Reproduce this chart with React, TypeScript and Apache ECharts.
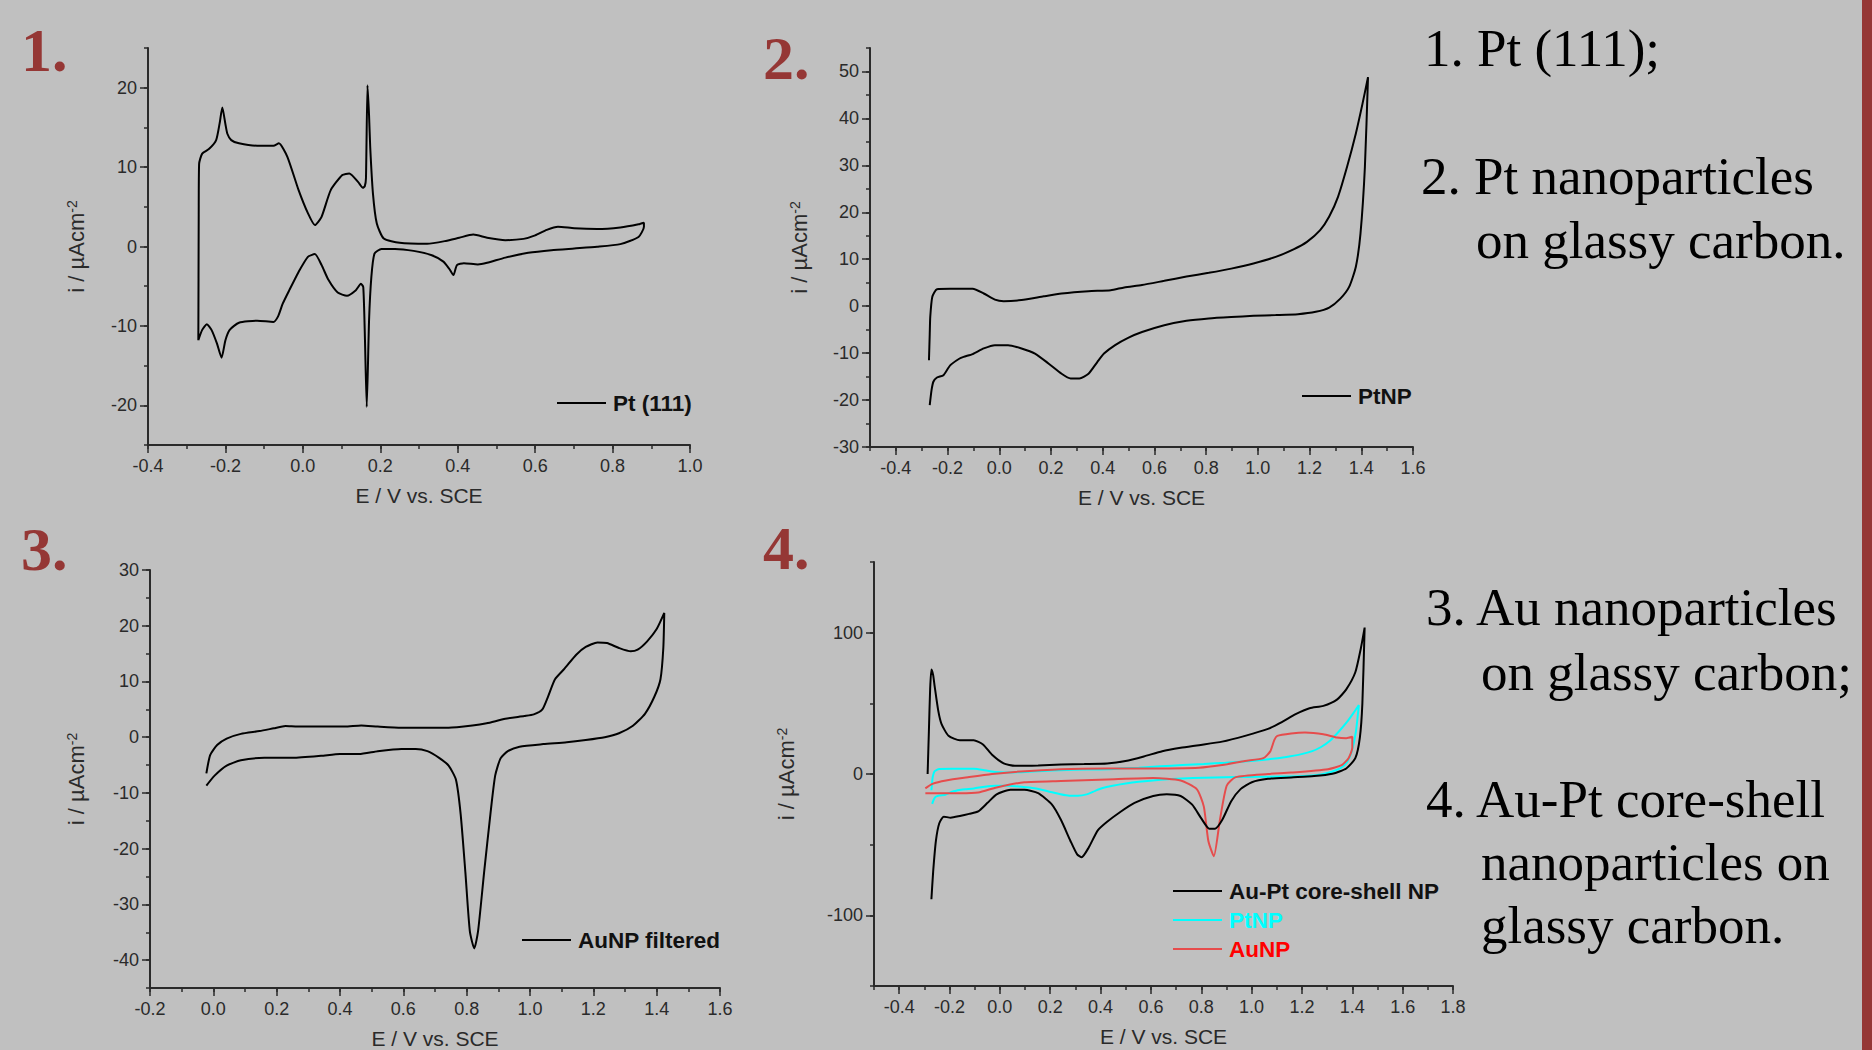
import { useEffect, useRef } from "react";
import * as echarts from "echarts";

type P = [number, number];

const FONT_SANS = "'Liberation Sans', Arial, sans-serif";
const FONT_SERIF = "'Liberation Serif', 'Times New Roman', serif";
const BG = "#c0c0c0";
const INK = "#2a2a2a";
const MAROON = "#953735";

// ---------- Panel 1: Pt(111) ----------
const pt111Anodic: P[] = [
  [-0.27, -11.8], [-0.2695, -4], [-0.269, 4], [-0.268, 10.4], [-0.26, 11.7], [-0.242, 12.3],
  [-0.224, 13.4], [-0.215, 15.5], [-0.208, 17.5], [-0.2, 15.4], [-0.195, 14.2], [-0.185, 13.4],
  [-0.165, 13.0], [-0.118, 12.7], [-0.076, 12.7], [-0.062, 13.0], [-0.04, 11.3], [-0.011, 7.1],
  [0.013, 4.2], [0.031, 2.7], [0.048, 3.7], [0.072, 7.1], [0.102, 9.0], [0.12, 9.2], [0.143, 8.1],
  [0.155, 7.4], [0.16, 7.6], [0.163, 8.6], [0.167, 20.3], [0.171, 16.5], [0.174, 12.5],
  [0.181, 6.7], [0.191, 2.9], [0.209, 1.0], [0.25, 0.46], [0.321, 0.34], [0.369, 0.7],
  [0.404, 1.1], [0.44, 1.5], [0.476, 1.1], [0.523, 0.8], [0.57, 0.96], [0.6, 1.4], [0.63, 2.1],
  [0.659, 2.5], [0.701, 2.3], [0.76, 2.2], [0.82, 2.4], [0.867, 2.8], [0.881, 3.0],
];
const pt111Cathodic: P[] = [
  [0.881, 3.0], [0.881, 2.5], [0.867, 1.2], [0.82, 0.3], [0.76, -0.04], [0.701, -0.25],
  [0.642, -0.46], [0.582, -0.8], [0.523, -1.4], [0.476, -2.05], [0.452, -2.26], [0.416, -2.1],
  [0.398, -2.35], [0.389, -3.6], [0.378, -2.8], [0.363, -1.9], [0.333, -1.1], [0.286, -0.55],
  [0.238, -0.3], [0.203, -0.3], [0.185, -0.9], [0.177, -3.8], [0.171, -9.3], [0.165, -20.2],
  [0.16, -10.9], [0.156, -5.1], [0.15, -4.7], [0.137, -5.5], [0.114, -6.2], [0.09, -5.8],
  [0.066, -4.2], [0.048, -2.3], [0.031, -0.96], [0.013, -1.3], [-0.011, -3.2], [-0.035, -5.5],
  [-0.052, -7.2], [-0.064, -8.8], [-0.076, -9.5], [-0.118, -9.35], [-0.165, -9.6],
  [-0.189, -10.5], [-0.2, -11.8], [-0.21, -14.0], [-0.222, -12.2], [-0.236, -10.5],
  [-0.248, -9.8], [-0.26, -10.5], [-0.27, -11.8],
];

// ---------- Panel 2: PtNP ----------
const ptnpAnodic: P[] = [
  [-0.272, -11.5], [-0.269, -6], [-0.267, -2.3], [-0.259, 2.0], [-0.241, 3.6], [-0.19, 3.7],
  [-0.103, 3.7], [-0.06, 2.7], [-0.017, 1.4], [0.017, 1.07], [0.086, 1.3], [0.172, 2.1],
  [0.241, 2.7], [0.345, 3.2], [0.431, 3.4], [0.483, 4.0], [0.552, 4.5], [0.638, 5.4],
  [0.724, 6.3], [0.81, 7.1], [0.897, 8.0], [0.983, 9.1], [1.069, 10.5], [1.138, 12.1],
  [1.19, 13.7], [1.241, 16.2], [1.276, 19.1], [1.31, 23.3], [1.345, 29.7], [1.379, 36.8],
  [1.405, 43.2], [1.426, 48.8],
];
const ptnpCathodic: P[] = [
  [1.426, 48.8], [1.414, 29.7], [1.397, 15.5], [1.379, 8.4], [1.353, 4.1], [1.319, 1.6],
  [1.276, -0.3], [1.224, -1.2], [1.155, -1.7], [1.069, -1.9], [0.983, -2.06], [0.897, -2.3],
  [0.81, -2.6], [0.724, -3.1], [0.638, -4.05], [0.552, -5.5], [0.5, -6.7], [0.448, -8.3],
  [0.405, -10.1], [0.379, -11.9], [0.345, -14.4], [0.31, -15.4], [0.276, -15.4], [0.241, -14.4],
  [0.19, -12.2], [0.138, -10.1], [0.086, -9.0], [0.034, -8.3], [-0.017, -8.3], [-0.06, -9.0],
  [-0.103, -10.2], [-0.138, -10.8], [-0.155, -11.2], [-0.19, -12.6], [-0.216, -14.7],
  [-0.241, -15.2], [-0.255, -16.1], [-0.262, -17.9], [-0.269, -21.1],
];

// ---------- Panel 3: AuNP filtered ----------
const aunpFilteredAnodic: P[] = [
  [-0.022, -6.5], [-0.01, -3.2], [0.012, -1.4], [0.042, -0.25], [0.087, 0.6], [0.146, 1.1],
  [0.191, 1.6], [0.228, 2.0], [0.266, 1.9], [0.34, 1.9], [0.415, 1.9], [0.467, 2.1],
  [0.519, 1.9], [0.594, 1.7], [0.669, 1.7], [0.743, 1.7], [0.818, 2.1], [0.863, 2.5],
  [0.922, 3.3], [0.982, 3.8], [1.012, 4.1], [1.039, 5.0], [1.057, 7.3], [1.079, 10.4],
  [1.109, 12.3], [1.146, 14.8], [1.176, 16.2], [1.213, 17.0], [1.243, 16.9], [1.281, 16.0],
  [1.318, 15.4], [1.34, 15.7], [1.37, 17.2], [1.4, 19.4], [1.424, 22.3],
];
const aunpFilteredCathodic: P[] = [
  [1.424, 22.3], [1.421, 16.0], [1.412, 10.4], [1.393, 7.3], [1.363, 4.2], [1.325, 2.05],
  [1.281, 0.7], [1.236, 0.0], [1.176, -0.5], [1.116, -0.9], [1.042, -1.24], [0.967, -1.7],
  [0.93, -2.5], [0.907, -3.8], [0.89, -6.9], [0.875, -13.8], [0.855, -24.3], [0.836, -34.8],
  [0.824, -37.9], [0.81, -34.8], [0.796, -24.3], [0.781, -13.8], [0.766, -7.6], [0.743, -5.1],
  [0.713, -3.7], [0.676, -2.5], [0.639, -2.1], [0.594, -2.1], [0.519, -2.5], [0.46, -3.0],
  [0.4, -3.0], [0.34, -3.35], [0.251, -3.7], [0.161, -3.7], [0.087, -4.15], [0.042, -5.1],
  [0.004, -6.9], [-0.022, -8.7],
];

// ---------- Panel 4: Au-Pt core-shell NP, with PtNP and AuNP ----------
const auptAnodic: P[] = [
  [-0.287, 0], [-0.282, 30], [-0.277, 60], [-0.272, 74], [-0.265, 70], [-0.259, 62],
  [-0.245, 45], [-0.232, 35.5], [-0.204, 27], [-0.159, 23.8], [-0.104, 23.8], [-0.067, 20.9],
  [-0.031, 13.6], [0.015, 7.5], [0.06, 5.8], [0.152, 6.1], [0.243, 6.8], [0.335, 7.1],
  [0.426, 7.5], [0.499, 9.2], [0.572, 12.4], [0.645, 16.1], [0.718, 18.5], [0.791, 20.4],
  [0.883, 22.9], [0.974, 27], [1.065, 31.9], [1.12, 36.7], [1.175, 42.3], [1.23, 46.5],
  [1.285, 48.2], [1.339, 52.6], [1.376, 59.9], [1.412, 72], [1.434, 89], [1.449, 103.6],
];
const auptCathodic: P[] = [
  [1.449, 103.6], [1.44, 50], [1.43, 25.8], [1.412, 11.2], [1.376, 3.9], [1.321, 0.2],
  [1.248, -1.5], [1.157, -2.4], [1.065, -3.4], [1.001, -5.8], [0.956, -10.7], [0.919, -19.2],
  [0.883, -32.6], [0.855, -38.7], [0.832, -38.7], [0.8, -31.4], [0.764, -21.7], [0.718, -15.6],
  [0.663, -14.4], [0.609, -15.6], [0.535, -20.4], [0.481, -26.5], [0.426, -33.8], [0.389, -39.9],
  [0.353, -52], [0.325, -58.9], [0.307, -56.9], [0.28, -47.2], [0.243, -32.6], [0.207, -21.7],
  [0.152, -13.6], [0.097, -11.2], [0.042, -11.2], [-0.013, -14.4], [-0.049, -20.4],
  [-0.086, -26.5], [-0.122, -28.2], [-0.159, -29.7], [-0.195, -30.9], [-0.223, -30.2],
  [-0.241, -35], [-0.254, -47.2], [-0.265, -69.1], [-0.272, -88.6],
];
const aunpAnodic: P[] = [
  [-0.296, -10.2], [-0.268, -7], [-0.214, -4.6], [-0.122, -2.2], [-0.031, 0], [0.06, 1.5],
  [0.243, 3.4], [0.426, 3.9], [0.609, 3.9], [0.791, 4.4], [0.883, 6.3], [0.974, 9.2],
  [1.047, 11.2], [1.074, 16], [1.09, 24], [1.102, 27], [1.157, 28.7], [1.212, 29.4],
  [1.285, 28.2], [1.339, 25.8], [1.376, 25.3], [1.4, 26.3],
];
const aunpCathodic: P[] = [
  [1.4, 26.3], [1.4, 18.5], [1.385, 11.2], [1.358, 6.3], [1.303, 3.4], [1.157, 1], [1.065, 0],
  [0.937, -2.2], [0.901, -8.3], [0.874, -32.6], [0.85, -58.2], [0.828, -47.2], [0.81, -22.9],
  [0.782, -10.7], [0.718, -4.6], [0.609, -2.9], [0.426, -3.9], [0.243, -4.9], [0.097, -5.8],
  [-0.013, -9.5], [-0.086, -13.1], [-0.159, -13.6], [-0.268, -13.6], [-0.296, -13.6],
];

// ---------- Axis tick definitions ----------
const xMajors1 = [-0.4, -0.2, 0, 0.2, 0.4, 0.6, 0.8, 1.0];
const yMajors1 = [-20, -10, 0, 10, 20];
const xMajors2 = [-0.4, -0.2, 0, 0.2, 0.4, 0.6, 0.8, 1.0, 1.2, 1.4, 1.6];
const yMajors2 = [-30, -20, -10, 0, 10, 20, 30, 40, 50];
const xMajors3 = [-0.2, 0, 0.2, 0.4, 0.6, 0.8, 1.0, 1.2, 1.4, 1.6];
const yMajors3 = [-40, -30, -20, -10, 0, 10, 20, 30];
const xMajors4 = [-0.4, -0.2, 0, 0.2, 0.4, 0.6, 0.8, 1.0, 1.2, 1.4, 1.6, 1.8];
const yMajors4 = [-100, 0, 100];

const legendNames1 = ["Pt (111)"];
const legendNames2 = ["PtNP"];
const legendNames3 = ["AuNP filtered"];
const legendNames4 = ["Au-Pt core-shell NP", "PtNP", "AuNP"];

const captions = [
  "1. Pt (111);",
  "2. Pt nanoparticles",
  "on glassy carbon.",
  "3. Au nanoparticles",
  "on glassy carbon;",
  "4. Au-Pt core-shell",
  "nanoparticles on",
  "glassy carbon.",
];

const X_TITLE = "E / V vs. SCE";
const Y_TITLE = "i / µAcm{sup|-2}";

const lineStyleAxis = { color: INK, width: 2 };

function isMajor(v: number, majors: number[]) {
  return majors.some((m) => Math.abs(m - v) < 1e-6);
}

function xAxisPair(grid: number, min: number, max: number, minor: number, majors: number[]) {
  return [
    {
      type: "value",
      gridIndex: grid,
      position: "bottom",
      min,
      max,
      interval: minor,
      axisLine: { show: true, onZero: false, lineStyle: lineStyleAxis },
      axisTick: { show: true, length: 4, lineStyle: { color: INK, width: 1.5 } },
      axisLabel: {
        show: true,
        margin: 12,
        fontSize: 18,
        color: INK,
        fontFamily: FONT_SANS,
        formatter: (v: number) => (isMajor(v, majors) ? (Math.round(v * 10) / 10).toFixed(1) : ""),
      },
      splitLine: { show: false },
      name: X_TITLE,
      nameLocation: "middle",
      nameGap: 40,
      nameTextStyle: { fontSize: 21, color: INK, fontFamily: FONT_SANS },
    },
    {
      type: "value",
      gridIndex: grid,
      position: "bottom",
      min,
      max,
      axisLine: { show: false, onZero: false },
      axisTick: { show: true, length: 8, customValues: majors, lineStyle: { color: INK, width: 1.5 } },
      axisLabel: { show: false },
      splitLine: { show: false },
    },
  ];
}

function yAxisPair(grid: number, min: number, max: number, minor: number, majors: number[], gap: number) {
  return [
    {
      type: "value",
      gridIndex: grid,
      position: "left",
      min,
      max,
      interval: minor,
      axisLine: { show: true, onZero: false, lineStyle: lineStyleAxis },
      axisTick: { show: true, length: 4, lineStyle: { color: INK, width: 1.5 } },
      axisLabel: {
        show: true,
        margin: 11,
        fontSize: 18,
        color: INK,
        fontFamily: FONT_SANS,
        formatter: (v: number) => (isMajor(v, majors) ? String(Math.round(v)) : ""),
      },
      splitLine: { show: false },
      name: Y_TITLE,
      nameLocation: "middle",
      nameGap: gap,
      nameTextStyle: {
        fontSize: 22,
        color: INK,
        fontFamily: FONT_SANS,
        rich: {
          sup: { fontSize: 14, color: INK, fontFamily: FONT_SANS, verticalAlign: "top", lineHeight: 23 },
        },
      },
    },
    {
      type: "value",
      gridIndex: grid,
      position: "left",
      min,
      max,
      axisLine: { show: false, onZero: false },
      axisTick: { show: true, length: 8, customValues: majors, lineStyle: { color: INK, width: 1.5 } },
      axisLabel: { show: false },
      splitLine: { show: false },
    },
  ];
}

function cvSeries(name: string, grid: number, color: string, data: P[]) {
  return {
    type: "line",
    name,
    xAxisIndex: grid * 2,
    yAxisIndex: grid * 2,
    data,
    showSymbol: false,
    symbol: "none",
    smooth: 0.2,
    silent: true,
    lineStyle: { color, width: 2 },
    z: 3,
  };
}

function legendItem(x: number, y: number, text: string, lineColor: string, textColor: string) {
  return [
    {
      type: "line",
      shape: { x1: x, y1: y, x2: x + 49, y2: y },
      style: { stroke: lineColor, lineWidth: 2 },
    },
    {
      type: "text",
      x: x + 56,
      y,
      style: {
        text,
        fill: textColor,
        font: `bold 22.5px ${FONT_SANS}`,
        textAlign: "left",
        textVerticalAlign: "middle",
        align: "left",
        verticalAlign: "middle",
      },
    },
  ];
}

function textEl(x: number, y: number, text: string, font: string, fill: string) {
  return {
    type: "text",
    x,
    y,
    style: {
      text,
      fill,
      font,
      textAlign: "left",
      textVerticalAlign: "middle",
      align: "left",
      verticalAlign: "middle",
    },
  };
}

export default function App() {
  const ref = useRef<HTMLDivElement>(null);

  useEffect(() => {
    if (!ref.current) return;
    const chart = echarts.init(ref.current, null, { renderer: "svg" });

    const RED_LINE = "#e64c4c";
    const CYAN = "#00ffff";
    const captionFont = `53px ${FONT_SERIF}`;
    const panelFont = `bold 62px ${FONT_SERIF}`;

    const option: any = {
      animation: false,
      backgroundColor: BG,
      grid: [
        { left: 148, top: 48, width: 542, height: 397 },
        { left: 870, top: 48, width: 543, height: 399 },
        { left: 150, top: 570, width: 570, height: 418 },
        { left: 874, top: 562, width: 579, height: 424 },
      ],
      xAxis: [
        ...xAxisPair(0, -0.4, 1.0, 0.1, xMajors1),
        ...xAxisPair(1, -0.5, 1.6, 0.1, xMajors2),
        ...xAxisPair(2, -0.2, 1.6, 0.1, xMajors3),
        ...xAxisPair(3, -0.5, 1.8, 0.1, xMajors4),
      ],
      yAxis: [
        ...yAxisPair(0, -25, 25, 5, yMajors1, 60),
        ...yAxisPair(1, -30, 55, 5, yMajors2, 59),
        ...yAxisPair(2, -45, 30, 5, yMajors3, 62),
        ...yAxisPair(3, -150, 150, 50, yMajors4, 76),
      ],
      series: [
        cvSeries(legendNames1[0], 0, "#000000", [...pt111Anodic, ...pt111Cathodic]),
        cvSeries(legendNames2[0], 1, "#000000", [...ptnpAnodic, ...ptnpCathodic]),
        cvSeries(legendNames3[0], 2, "#000000", [...aunpFilteredAnodic, ...aunpFilteredCathodic]),
        cvSeries(legendNames4[1], 3, CYAN, [...ptnpAnodic, ...ptnpCathodic]),
        cvSeries(legendNames4[2], 3, RED_LINE, [...aunpAnodic, ...aunpCathodic]),
        cvSeries(legendNames4[0], 3, "#000000", [...auptAnodic, ...auptCathodic]),
      ],
      graphic: [
        // panel numbers
        textEl(21, 50, "1.", panelFont, MAROON),
        textEl(763, 58, "2.", panelFont, MAROON),
        textEl(21, 549, "3.", panelFont, MAROON),
        textEl(763, 548, "4.", panelFont, MAROON),
        // captions
        textEl(1424, 48, captions[0], captionFont, "#000"),
        textEl(1421, 176, captions[1], captionFont, "#000"),
        textEl(1476, 240, captions[2], captionFont, "#000"),
        textEl(1426, 607, captions[3], captionFont, "#000"),
        textEl(1481, 672, captions[4], captionFont, "#000"),
        textEl(1426, 799, captions[5], captionFont, "#000"),
        textEl(1481, 862, captions[6], captionFont, "#000"),
        textEl(1481, 925, captions[7], captionFont, "#000"),
        // right bar
        { type: "rect", shape: { x: 1862, y: 0, width: 10, height: 1050 }, style: { fill: MAROON } },
        // legends
        ...legendItem(557, 403, legendNames1[0], "#000", "#111"),
        ...legendItem(1302, 396, legendNames2[0], "#000", "#111"),
        ...legendItem(522, 940, legendNames3[0], "#000", "#111"),
        ...legendItem(1173, 891, legendNames4[0], "#000", "#111"),
        ...legendItem(1173, 920, legendNames4[1], CYAN, CYAN),
        ...legendItem(1173, 949, legendNames4[2], RED_LINE, "#ff0000"),
      ],
    };

    chart.setOption(option);
    return () => chart.dispose();
  }, []);

  return (
    <div
      ref={ref}
      style={{ position: "fixed", left: 0, top: 0, width: 1872, height: 1050, background: BG }}
    />
  );
}
